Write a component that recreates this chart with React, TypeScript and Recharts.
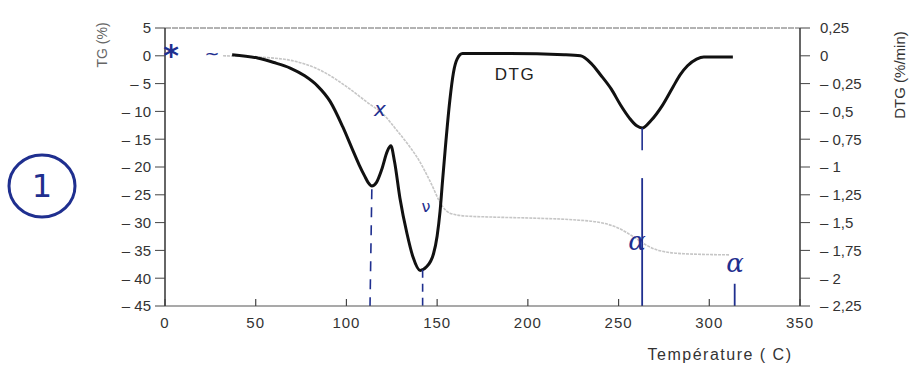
import React from "react";
import { LineChart, Line, XAxis, YAxis, ReferenceLine } from "recharts";

// Temperature (°C) and DTG (%/min)
const dtgTemp = [37, 51, 60, 69, 77, 84, 91, 98, 103, 107, 110, 112, 114, 116.5, 119.5, 122.5, 124.5, 126.5, 129.5, 133.4, 136.7, 140.6, 144, 148, 150, 151.6, 153, 154.4, 157, 159, 161, 164, 190, 220, 229, 235, 240, 246, 251, 256, 260, 263, 268, 274, 280, 284, 288, 293, 297, 313];
const dtgValue = [0.01, -0.02, -0.06, -0.11, -0.18, -0.27, -0.41, -0.64, -0.83, -0.98, -1.08, -1.14, -1.17, -1.14, -1.02, -0.86, -0.81, -0.95, -1.28, -1.6, -1.81, -1.93, -1.9, -1.78, -1.62, -1.4, -1.12, -0.85, -0.4, -0.15, -0.03, 0.02, 0.02, 0.01, 0.0, -0.07, -0.17, -0.3, -0.44, -0.56, -0.63, -0.65, -0.58, -0.45, -0.28, -0.17, -0.09, -0.03, -0.01, -0.01];

// Temperature (°C) and TG (%)
const tgTemp = [32, 50, 69, 85, 102, 112, 120, 128, 135, 140, 146, 153, 157, 165, 180, 203, 225, 240, 250, 258, 265, 272, 286, 311];
const tgValue = [0, -0.2, -0.8, -2.5, -6, -8.5, -10.4, -13.5, -16.4, -18.8, -22.5, -27.1, -28.3, -28.8, -29, -29.2, -29.5, -30, -31, -32.5, -34, -35, -35.6, -35.8];

const xTicks = [0, 50, 100, 150, 200, 250, 300, 350];
const tgTicks = [5, 0, -5, -10, -15, -20, -25, -30, -35, -40, -45];
const dtgTicks = [0.25, 0, -0.25, -0.5, -0.75, -1, -1.25, -1.5, -1.75, -2, -2.25];

const dtgData = dtgTemp.map((t, i) => ({ t, dtg: dtgValue[i] }));
const tgData = tgTemp.map((t, i) => ({ t, tg: tgValue[i] }));

const FONT = "'Liberation Sans', Arial, sans-serif";
const INK = "#1f2f8f";

const fmtTG = (v: number) => (v > 0 ? String(v) : v === 0 ? "0" : "– " + String(-v));
const fmtDTG = (v: number) => {
  const s = String(Math.abs(v)).replace(".", ",");
  return v < 0 ? "– " + s : s;
};

const XTick = (props: any) => {
  const { x, y, payload } = props;
  return (
    <g>
      <line x1={x} y1={y} x2={x} y2={y - 7} stroke="#444" strokeWidth={1.2} />
      <text x={x} y={y + 22} textAnchor="middle" fontSize={15} fill="#333" fontFamily={FONT} letterSpacing={1}>
        {payload.value}
      </text>
    </g>
  );
};

export default function App() {
  return (
    <div style={{ position: "absolute", left: 0, top: 0, width: 922, height: 371, background: "#fff" }}>
      <LineChart width={922} height={371} data={dtgData} margin={{ top: 28, right: 42, bottom: 25, left: 0 }}>
        <XAxis
          dataKey="t"
          type="number"
          domain={[0, 350]}
          ticks={xTicks}
          allowDataOverflow
          height={40}
          tickSize={0}
          tickMargin={0}
          tick={<XTick />}
          axisLine={{ stroke: "#555", strokeWidth: 1.2 }}
        />
        <YAxis
          yAxisId="left"
          orientation="left"
          domain={[-45, 5]}
          ticks={tgTicks}
          width={165}
          tickFormatter={fmtTG}
          tickSize={10}
          tickMargin={4}
          tick={{ fontSize: 15, fill: "#333", fontFamily: FONT }}
          tickLine={{ stroke: "#444" }}
          axisLine={{ stroke: "#333", strokeWidth: 1.5 }}
          interval={0}
        />
        <YAxis
          yAxisId="right"
          orientation="right"
          domain={[-2.25, 0.25]}
          ticks={dtgTicks}
          width={80}
          tickFormatter={fmtDTG}
          tickSize={10}
          tickMargin={10}
          tick={{ fontSize: 15, fill: "#333", fontFamily: FONT, textAnchor: "start" }}
          tickLine={{ stroke: "#444" }}
          axisLine={{ stroke: "#333", strokeWidth: 1.5 }}
          interval={0}
        />
        <ReferenceLine yAxisId="left" y={5} stroke="#666" strokeWidth={1} strokeDasharray="6 1" />
        <Line
          yAxisId="left"
          data={tgData}
          dataKey="tg"
          type="monotone"
          stroke="#c6c6c6"
          strokeWidth={1.6}
          strokeDasharray="3 1"
          dot={false}
          isAnimationActive={false}
        />
        <Line
          yAxisId="right"
          dataKey="dtg"
          type="monotone"
          stroke="#111"
          strokeWidth={3}
          dot={false}
          isAnimationActive={false}
        />
        <ReferenceLine yAxisId="left" segment={[{ x: 114, y: -24 }, { x: 113, y: -45 }]} stroke={INK} strokeWidth={1.6} strokeDasharray="10 8" />
        <ReferenceLine yAxisId="left" segment={[{ x: 142, y: -38.5 }, { x: 142, y: -45 }]} stroke={INK} strokeWidth={1.6} strokeDasharray="8 6" />
        <ReferenceLine yAxisId="left" segment={[{ x: 263, y: -13 }, { x: 263, y: -17 }]} stroke={INK} strokeWidth={1.6} />
        <ReferenceLine yAxisId="left" segment={[{ x: 263, y: -22 }, { x: 263, y: -45 }]} stroke={INK} strokeWidth={1.8} />
        <ReferenceLine yAxisId="left" segment={[{ x: 314, y: -41 }, { x: 314, y: -45 }]} stroke={INK} strokeWidth={1.8} />
      </LineChart>
      <svg width={922} height={371} style={{ position: "absolute", left: 0, top: 0, pointerEvents: "none" }}>
        <text x={107} y={45} transform="rotate(-90 107 45)" textAnchor="middle" fontSize={14} fill="#666" fontFamily={FONT}>
          TG (%)
        </text>
        <text x={905} y={75} transform="rotate(-90 905 75)" textAnchor="middle" fontSize={15} fill="#333" fontFamily={FONT}>
          DTG (%/min)
        </text>
        <text x={720} y={360} textAnchor="middle" fontSize={16} fill="#333" fontFamily={FONT} letterSpacing={1.5}>
          Température ( C)
        </text>
        <text x={515} y={80} textAnchor="middle" fontSize={17} fill="#222" fontFamily={FONT} letterSpacing={1.5}>
          DTG
        </text>
        <ellipse cx={42} cy={186} rx={33} ry={31} fill="none" stroke={INK} strokeWidth={3} />
        <text x={42} y={197} textAnchor="middle" fontSize={32} fill={INK} fontFamily="'DejaVu Sans', sans-serif">
          1
        </text>
        <text x={171} y={66} textAnchor="middle" fontSize={30} fontWeight="bold" fill={INK} fontFamily="'DejaVu Sans', sans-serif">
          *
        </text>
        <text x={212} y={60} textAnchor="middle" fontSize={18} fill={INK} fontFamily="'DejaVu Sans', sans-serif">
          ~
        </text>
        <text x={380} y={116} textAnchor="middle" fontSize={20} fill={INK} fontFamily="'DejaVu Sans', sans-serif" fontStyle="italic">
          x
        </text>
        <text x={426} y={212} textAnchor="middle" fontSize={16} fill={INK} fontFamily="'DejaVu Sans', sans-serif">
          ν
        </text>
        <text x={637} y={250} textAnchor="middle" fontSize={26} fill={INK} fontFamily="'DejaVu Serif', serif" fontStyle="italic">
          α
        </text>
        <text x={735} y={272} textAnchor="middle" fontSize={26} fill={INK} fontFamily="'DejaVu Serif', serif" fontStyle="italic">
          α
        </text>
      </svg>
    </div>
  );
}
